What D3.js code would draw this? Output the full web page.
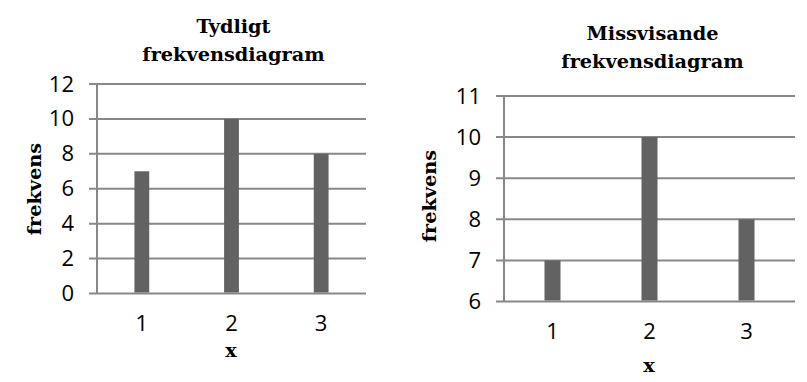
<!DOCTYPE html>
<html>
<head>
<meta charset="utf-8">
<script src="https://cdn.jsdelivr.net/npm/d3@7"></script>
<style>
  body { margin: 0; background: #fff; }
  .title, .axis-title { font-family: "DejaVu Serif", serif; font-weight: bold; font-size: 19.3px; fill: #000; }
</style>
</head>
<body>
<div id="chart"></div>
<script>
const width = 807
const height = 382

// Data
const categories = ["1", "2", "3"]
const values = [7, 10, 8]
const leftTicks = [0, 2, 4, 6, 8, 10, 12]
const rightTicks = [6, 7, 8, 9, 10, 11]
const leftTitle = ["Tydligt", "frekvensdiagram"]
const rightTitle = ["Missvisande", "frekvensdiagram"]

const gridColor = "#888888"
const barColor = "#626262"

const svg = d3.select("#chart")
  .append("svg")
  .attr("width", width)
  .attr("height", height)

// fuente de los números de los ejes
function styleTicks(s) {
  s.select(".domain").remove()
  s.selectAll(".tick text")
    .style("font-family", "'Open Sans', sans-serif")
    .style("font-size", "22px")
    .style("fill", "#000")
}

function drawChart(opts) {
  const g = svg.append("g")

  const x = d3.scaleBand().domain(categories).range([opts.left, opts.right])
  const y = d3.scaleLinear().domain(d3.extent(opts.ticks)).range([opts.bottom, opts.top])

  // grid lines
  g.selectAll("line.grid").data(opts.ticks)
    .enter()
    .append("line")
      .attr("class", "grid")
      .attr("x1", opts.left - 8)
      .attr("x2", opts.right)
      .attr("y1", d => y(d))
      .attr("y2", d => y(d))
      .attr("stroke", gridColor)
      .attr("stroke-width", 2)

  // y axis line
  g.append("line")
    .attr("x1", opts.left).attr("x2", opts.left)
    .attr("y1", opts.top).attr("y2", opts.bottom)
    .attr("stroke", gridColor)
    .attr("stroke-width", 2)

  // y tick labels
  const yAxis = d3.axisLeft(y).tickValues(opts.ticks).tickFormat(d3.format("d")).tickSize(0).tickPadding(23)
  g.append("g")
    .attr("transform", `translate(${opts.left}, 0)`)
    .call(yAxis)
    .call(styleTicks)

  // x tick labels
  const xAxis = d3.axisBottom(x).tickSize(0).tickPadding(opts.xPad)
  g.append("g")
    .attr("transform", `translate(0, ${opts.bottom})`)
    .call(xAxis)
    .call(styleTicks)

  // bars
  const bw = x.bandwidth() * 0.165
  g.selectAll("rect").data(values)
    .enter()
    .append("rect")
      .attr("x", (d, i) => x(categories[i]) + x.bandwidth() / 2 - bw / 2)
      .attr("y", d => y(d))
      .attr("width", bw)
      .attr("height", d => opts.bottom - y(d) - 1)
      .attr("fill", barColor)

  // title
  const cx = (opts.left + opts.right) / 2
  g.selectAll("text.title").data(opts.title)
    .enter()
    .append("text")
      .attr("class", "title")
      .attr("x", cx + opts.titleDx)
      .attr("y", (d, i) => opts.titleY + i * 28)
      .attr("text-anchor", "middle")
      .text(d => d)

  // axis titles
  g.append("text")
    .attr("class", "axis-title")
    .attr("x", opts.xTitleX)
    .attr("y", opts.xTitleY)
    .attr("text-anchor", "middle")
    .text("x")

  g.append("text")
    .attr("class", "axis-title")
    .attr("transform", `translate(${opts.yTitleX}, ${opts.yTitleY}) rotate(-90)`)
    .attr("text-anchor", "middle")
    .text("frekvens")
}

drawChart({
  left: 97, right: 366, top: 84, bottom: 293.5,
  ticks: leftTicks, title: leftTitle, titleY: 33, titleDx: 2,
  xPad: 22, xTitleX: 231, xTitleY: 357,
  yTitleX: 41, yTitleY: 189
})

drawChart({
  left: 504, right: 795, top: 96, bottom: 301.5,
  ticks: rightTicks, title: rightTitle, titleY: 40, titleDx: 3,
  xPad: 22, xTitleX: 649, xTitleY: 372,
  yTitleX: 436, yTitleY: 196
})
</script>
</body>
</html>
